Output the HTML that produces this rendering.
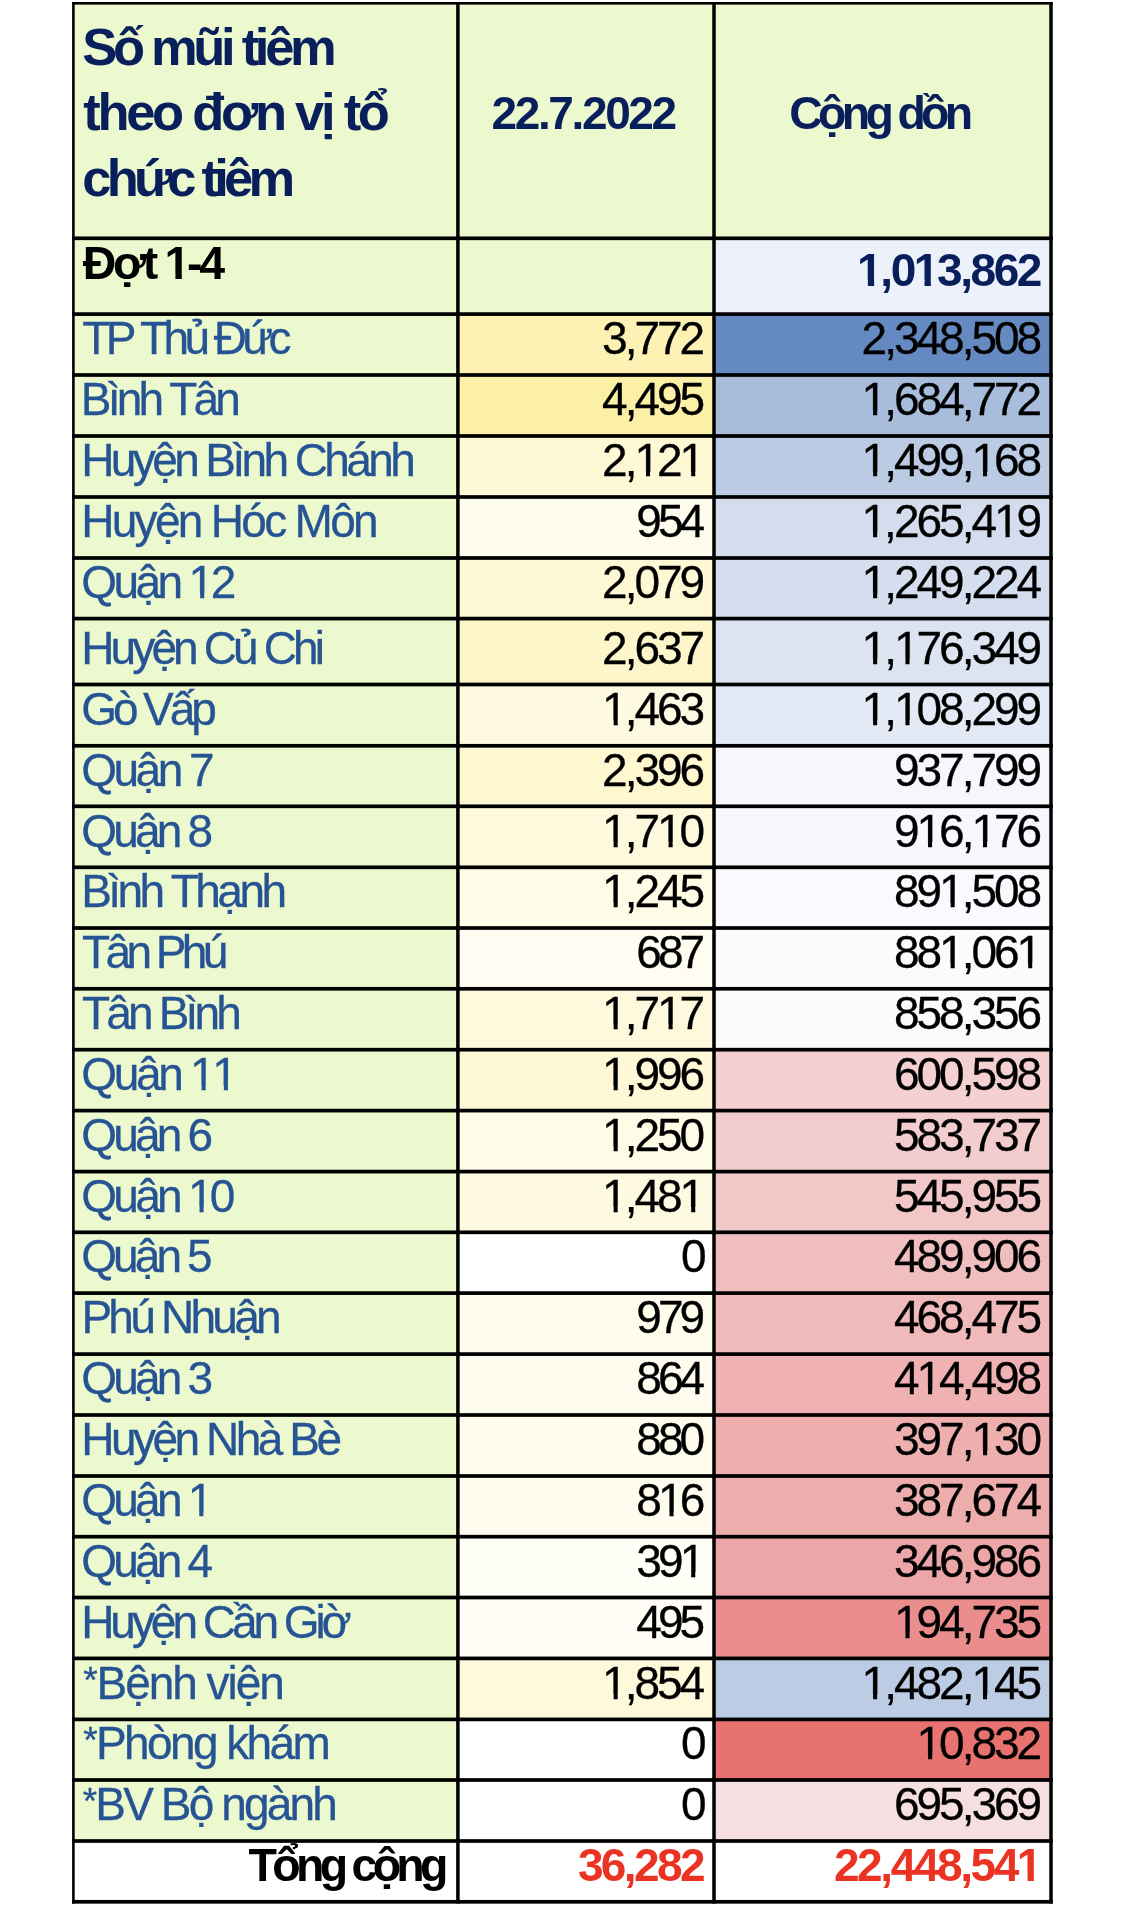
<!DOCTYPE html>
<html lang="vi"><head><meta charset="utf-8"><title>Số mũi tiêm theo đơn vị tổ chức tiêm</title>
<style>
html,body{margin:0;padding:0;background:#fff;}
body{width:1125px;height:1908px;position:relative;overflow:hidden;font-family:"Liberation Sans",sans-serif;}
svg{position:absolute;left:0;top:0;}
.t{position:absolute;white-space:nowrap;line-height:1;margin:0;font-kerning:none;}
.n{font-size:46px;color:#265393;-webkit-text-stroke:0.3px #265393;}
.v{font-size:46px;letter-spacing:-3px;color:#000;text-align:right;-webkit-text-stroke:0.3px #000;}
.a{right:422.8px;}.b{right:85.8px;}
.h{color:#081f5c;font-weight:bold;}
.bd{font-weight:bold;font-size:46px;}
.o{display:inline-block;clip-path:polygon(-.1em 0,1em 0,1em .75em,.3398em .75em,.3398em 1.1em,.2515em 1.1em,.2515em .75em,-.1em .75em);}
.bd .o{clip-path:polygon(-.1em 0,1em 0,1em .72em,.3706em .72em,.3706em 1.1em,.2334em 1.1em,.2334em .72em,-.1em .72em);}
.s{font-size:37px;position:relative;top:-6.2px;left:-1px;}
</style></head><body>
<svg width="1125" height="1908" viewBox="0 0 1125 1908">
<rect x="73.4" y="3.3" width="977.6" height="235" fill="#ecf9ce"/>
<rect x="73.4" y="238.3" width="640.6" height="75.8" fill="#ecf9ce"/>
<rect x="714" y="238.3" width="337" height="75.8" fill="#edf1f9"/>
<rect x="73.4" y="314.1" width="384.5" height="60.9" fill="#ecf9ce"/>
<rect x="457.9" y="314.1" width="256.1" height="60.9" fill="#fdf2b4"/>
<rect x="714" y="314.1" width="337" height="60.9" fill="#6589c1"/>
<rect x="73.4" y="375" width="384.5" height="61" fill="#ecf9ce"/>
<rect x="457.9" y="375" width="256.1" height="61" fill="#fcf0a6"/>
<rect x="714" y="375" width="337" height="61" fill="#a8bcdc"/>
<rect x="73.4" y="436" width="384.5" height="61" fill="#ecf9ce"/>
<rect x="457.9" y="436" width="256.1" height="61" fill="#fef8d4"/>
<rect x="714" y="436" width="337" height="61" fill="#bbcbe4"/>
<rect x="73.4" y="497" width="384.5" height="61" fill="#ecf9ce"/>
<rect x="457.9" y="497" width="256.1" height="61" fill="#fefcec"/>
<rect x="714" y="497" width="337" height="61" fill="#d3ddee"/>
<rect x="73.4" y="558" width="384.5" height="60.6" fill="#ecf9ce"/>
<rect x="457.9" y="558" width="256.1" height="60.6" fill="#fef8d5"/>
<rect x="714" y="558" width="337" height="60.6" fill="#d5deef"/>
<rect x="73.4" y="618.6" width="384.5" height="65.9" fill="#ecf9ce"/>
<rect x="457.9" y="618.6" width="256.1" height="65.9" fill="#fdf6ca"/>
<rect x="714" y="618.6" width="337" height="65.9" fill="#dce4f2"/>
<rect x="73.4" y="684.5" width="384.5" height="61.3" fill="#ecf9ce"/>
<rect x="457.9" y="684.5" width="256.1" height="61.3" fill="#fefae1"/>
<rect x="714" y="684.5" width="337" height="61.3" fill="#e3e9f5"/>
<rect x="73.4" y="745.8" width="384.5" height="60.5" fill="#ecf9ce"/>
<rect x="457.9" y="745.8" width="256.1" height="60.5" fill="#fef7cf"/>
<rect x="714" y="745.8" width="337" height="60.5" fill="#f5f7fc"/>
<rect x="73.4" y="806.3" width="384.5" height="61" fill="#ecf9ce"/>
<rect x="457.9" y="806.3" width="256.1" height="61" fill="#fef9dd"/>
<rect x="714" y="806.3" width="337" height="61" fill="#f7f8fd"/>
<rect x="73.4" y="867.3" width="384.5" height="60.7" fill="#ecf9ce"/>
<rect x="457.9" y="867.3" width="256.1" height="60.7" fill="#fefbe6"/>
<rect x="714" y="867.3" width="337" height="60.7" fill="#fafafe"/>
<rect x="73.4" y="928" width="384.5" height="60.8" fill="#ecf9ce"/>
<rect x="457.9" y="928" width="256.1" height="60.8" fill="#fffdf1"/>
<rect x="714" y="928" width="337" height="60.8" fill="#fbfbfe"/>
<rect x="73.4" y="988.8" width="384.5" height="60.9" fill="#ecf9ce"/>
<rect x="457.9" y="988.8" width="256.1" height="60.9" fill="#fef9dc"/>
<rect x="714" y="988.8" width="337" height="60.9" fill="#fcfafd"/>
<rect x="73.4" y="1049.7" width="384.5" height="60.9" fill="#ecf9ce"/>
<rect x="457.9" y="1049.7" width="256.1" height="60.9" fill="#fef8d7"/>
<rect x="714" y="1049.7" width="337" height="60.9" fill="#f4d0d1"/>
<rect x="73.4" y="1110.6" width="384.5" height="61" fill="#ecf9ce"/>
<rect x="457.9" y="1110.6" width="256.1" height="61" fill="#fefbe6"/>
<rect x="714" y="1110.6" width="337" height="61" fill="#f3cdce"/>
<rect x="73.4" y="1171.6" width="384.5" height="60.7" fill="#ecf9ce"/>
<rect x="457.9" y="1171.6" width="256.1" height="60.7" fill="#fefae1"/>
<rect x="714" y="1171.6" width="337" height="60.7" fill="#f2c7c8"/>
<rect x="73.4" y="1232.3" width="384.5" height="60.8" fill="#ecf9ce"/>
<rect x="457.9" y="1232.3" width="256.1" height="60.8" fill="#ffffff"/>
<rect x="714" y="1232.3" width="337" height="60.8" fill="#f1bebf"/>
<rect x="73.4" y="1293.1" width="384.5" height="61" fill="#ecf9ce"/>
<rect x="457.9" y="1293.1" width="256.1" height="61" fill="#fefceb"/>
<rect x="714" y="1293.1" width="337" height="61" fill="#f0babb"/>
<rect x="73.4" y="1354.1" width="384.5" height="60.9" fill="#ecf9ce"/>
<rect x="457.9" y="1354.1" width="256.1" height="60.9" fill="#fefcee"/>
<rect x="714" y="1354.1" width="337" height="60.9" fill="#efb1b2"/>
<rect x="73.4" y="1415" width="384.5" height="61" fill="#ecf9ce"/>
<rect x="457.9" y="1415" width="256.1" height="61" fill="#fefced"/>
<rect x="714" y="1415" width="337" height="61" fill="#eeafaf"/>
<rect x="73.4" y="1476" width="384.5" height="60.7" fill="#ecf9ce"/>
<rect x="457.9" y="1476" width="256.1" height="60.7" fill="#fefcee"/>
<rect x="714" y="1476" width="337" height="60.7" fill="#eeadad"/>
<rect x="73.4" y="1536.7" width="384.5" height="60.8" fill="#ecf9ce"/>
<rect x="457.9" y="1536.7" width="256.1" height="60.8" fill="#fffef7"/>
<rect x="714" y="1536.7" width="337" height="60.8" fill="#eda6a7"/>
<rect x="73.4" y="1597.5" width="384.5" height="60.9" fill="#ecf9ce"/>
<rect x="457.9" y="1597.5" width="256.1" height="60.9" fill="#fffdf5"/>
<rect x="714" y="1597.5" width="337" height="60.9" fill="#ea8e8d"/>
<rect x="73.4" y="1658.4" width="384.5" height="61" fill="#ecf9ce"/>
<rect x="457.9" y="1658.4" width="256.1" height="61" fill="#fef9da"/>
<rect x="714" y="1658.4" width="337" height="61" fill="#bdcce5"/>
<rect x="73.4" y="1719.4" width="384.5" height="60.6" fill="#ecf9ce"/>
<rect x="457.9" y="1719.4" width="256.1" height="60.6" fill="#ffffff"/>
<rect x="714" y="1719.4" width="337" height="60.6" fill="#e7726f"/>
<rect x="73.4" y="1780" width="384.5" height="61" fill="#ecf9ce"/>
<rect x="457.9" y="1780" width="256.1" height="61" fill="#ffffff"/>
<rect x="714" y="1780" width="337" height="61" fill="#f6dfe1"/>
<rect x="72.1" y="2" width="980.65" height="2.6" fill="#000"/>
<rect x="72.1" y="236.45" width="980.65" height="3.7" fill="#000"/>
<rect x="72.1" y="312.25" width="980.65" height="3.7" fill="#000"/>
<rect x="72.1" y="373.15" width="980.65" height="3.7" fill="#000"/>
<rect x="72.1" y="434.15" width="980.65" height="3.7" fill="#000"/>
<rect x="72.1" y="495.15" width="980.65" height="3.7" fill="#000"/>
<rect x="72.1" y="556.15" width="980.65" height="3.7" fill="#000"/>
<rect x="72.1" y="616.75" width="980.65" height="3.7" fill="#000"/>
<rect x="72.1" y="682.65" width="980.65" height="3.7" fill="#000"/>
<rect x="72.1" y="743.95" width="980.65" height="3.7" fill="#000"/>
<rect x="72.1" y="804.45" width="980.65" height="3.7" fill="#000"/>
<rect x="72.1" y="865.45" width="980.65" height="3.7" fill="#000"/>
<rect x="72.1" y="926.15" width="980.65" height="3.7" fill="#000"/>
<rect x="72.1" y="986.95" width="980.65" height="3.7" fill="#000"/>
<rect x="72.1" y="1047.85" width="980.65" height="3.7" fill="#000"/>
<rect x="72.1" y="1108.75" width="980.65" height="3.7" fill="#000"/>
<rect x="72.1" y="1169.75" width="980.65" height="3.7" fill="#000"/>
<rect x="72.1" y="1230.45" width="980.65" height="3.7" fill="#000"/>
<rect x="72.1" y="1291.25" width="980.65" height="3.7" fill="#000"/>
<rect x="72.1" y="1352.25" width="980.65" height="3.7" fill="#000"/>
<rect x="72.1" y="1413.15" width="980.65" height="3.7" fill="#000"/>
<rect x="72.1" y="1474.15" width="980.65" height="3.7" fill="#000"/>
<rect x="72.1" y="1534.85" width="980.65" height="3.7" fill="#000"/>
<rect x="72.1" y="1595.65" width="980.65" height="3.7" fill="#000"/>
<rect x="72.1" y="1656.55" width="980.65" height="3.7" fill="#000"/>
<rect x="72.1" y="1717.55" width="980.65" height="3.7" fill="#000"/>
<rect x="72.1" y="1778.15" width="980.65" height="3.7" fill="#000"/>
<rect x="72.1" y="1839.15" width="980.65" height="3.7" fill="#000"/>
<rect x="72.1" y="1899.95" width="980.65" height="3.7" fill="#000"/>
<rect x="72.1" y="2" width="2.6" height="1901.55" fill="#000"/>
<rect x="456.15" y="2" width="3.5" height="1901.55" fill="#000"/>
<rect x="712.25" y="2" width="3.5" height="1901.55" fill="#000"/>
<rect x="1049.25" y="2" width="3.5" height="1901.55" fill="#000"/>
</svg>
<div id="tx" style="position:absolute;left:0;top:0;width:1125px;height:1908px;will-change:transform;">
<div class="t h" style="top:20.66px;font-size:52.5px;left:82.2px;letter-spacing:-4.3px;">Số mũi tiêm</div>
<div class="t h" style="top:85.66px;font-size:52.5px;left:83.2px;letter-spacing:-3.28px;">theo đơn vị tổ</div>
<div class="t h" style="top:152.26px;font-size:52.5px;left:82.2px;letter-spacing:-4.75px;">chức tiêm</div>
<div class="t h" style="top:89.76px;font-size:46px;left:491.6px;letter-spacing:-2.39px;">22.7.2022</div>
<div class="t h" style="top:89.94px;font-size:46.5px;left:789.2px;letter-spacing:-4.7px;">Cộng dồn</div>
<div class="t bd" style="top:240.24px;font-size:46.5px;color:#000;left:82.8px;letter-spacing:-3.32px;">Đợt <span class="o">1</span>-4</div>
<div class="t bd" style="top:247.06px;color:#081f5c;text-align:right;right:85px;letter-spacing:-2.42px;"><span class="o">1</span>,0<span class="o">1</span>3,862</div>
<div class="t n" style="top:315.31px;left:82.2px;letter-spacing:-4.59px;">TP Thủ Đức</div>
<div class="t v a" style="top:315.31px;">3,772</div>
<div class="t v b" style="top:315.31px;">2,348,508</div>
<div class="t n" style="top:376.31px;left:80.8px;letter-spacing:-3.8px;">Bình Tân</div>
<div class="t v a" style="top:376.31px;">4,495</div>
<div class="t v b" style="top:376.31px;"><span class="o">1</span>,684,772</div>
<div class="t n" style="top:437.31px;left:81.2px;letter-spacing:-3.6px;">Huyện Bình Chánh</div>
<div class="t v a" style="top:437.31px;">2,<span class="o">1</span>2<span class="o">1</span></div>
<div class="t v b" style="top:437.31px;"><span class="o">1</span>,499,<span class="o">1</span>68</div>
<div class="t n" style="top:498.31px;left:81.2px;letter-spacing:-2.7px;">Huyện Hóc Môn</div>
<div class="t v a" style="top:498.31px;letter-spacing:-3.9px;right:423.7px;">954</div>
<div class="t v b" style="top:498.31px;"><span class="o">1</span>,265,4<span class="o">1</span>9</div>
<div class="t n" style="top:558.91px;left:81.2px;letter-spacing:-3.58px;">Quận <span class="o">1</span>2</div>
<div class="t v a" style="top:558.91px;">2,079</div>
<div class="t v b" style="top:558.91px;"><span class="o">1</span>,249,224</div>
<div class="t n" style="top:624.81px;left:81.2px;letter-spacing:-3.87px;">Huyện Củ Chi</div>
<div class="t v a" style="top:624.81px;">2,637</div>
<div class="t v b" style="top:624.81px;"><span class="o">1</span>,<span class="o">1</span>76,349</div>
<div class="t n" style="top:686.11px;left:81.2px;letter-spacing:-4.07px;">Gò Vấp</div>
<div class="t v a" style="top:686.11px;"><span class="o">1</span>,463</div>
<div class="t v b" style="top:686.11px;"><span class="o">1</span>,<span class="o">1</span>08,299</div>
<div class="t n" style="top:746.61px;left:81.2px;letter-spacing:-3.5px;">Quận 7</div>
<div class="t v a" style="top:746.61px;">2,396</div>
<div class="t v b" style="top:746.61px;">937,799</div>
<div class="t n" style="top:807.61px;left:81.2px;letter-spacing:-3.8px;">Quận 8</div>
<div class="t v a" style="top:807.61px;"><span class="o">1</span>,7<span class="o">1</span>0</div>
<div class="t v b" style="top:807.61px;">9<span class="o">1</span>6,<span class="o">1</span>76</div>
<div class="t n" style="top:868.31px;left:81.2px;letter-spacing:-3.56px;">Bình Thạnh</div>
<div class="t v a" style="top:868.31px;"><span class="o">1</span>,245</div>
<div class="t v b" style="top:868.31px;">89<span class="o">1</span>,508</div>
<div class="t n" style="top:929.11px;left:82px;letter-spacing:-4.58px;">Tân Phú</div>
<div class="t v a" style="top:929.11px;letter-spacing:-3.9px;right:423.7px;">687</div>
<div class="t v b" style="top:929.11px;">88<span class="o">1</span>,06<span class="o">1</span></div>
<div class="t n" style="top:990.01px;left:82px;letter-spacing:-3.84px;">Tân Bình</div>
<div class="t v a" style="top:990.01px;"><span class="o">1</span>,7<span class="o">1</span>7</div>
<div class="t v b" style="top:990.01px;">858,356</div>
<div class="t n" style="top:1050.91px;left:81.2px;letter-spacing:-3.3px;">Quận <span class="o">1</span><span class="o">1</span></div>
<div class="t v a" style="top:1050.91px;"><span class="o">1</span>,996</div>
<div class="t v b" style="top:1050.91px;">600,598</div>
<div class="t n" style="top:1111.91px;left:81.2px;letter-spacing:-3.8px;">Quận 6</div>
<div class="t v a" style="top:1111.91px;"><span class="o">1</span>,250</div>
<div class="t v b" style="top:1111.91px;">583,737</div>
<div class="t n" style="top:1172.61px;left:81.2px;letter-spacing:-3.71px;">Quận <span class="o">1</span>0</div>
<div class="t v a" style="top:1172.61px;"><span class="o">1</span>,48<span class="o">1</span></div>
<div class="t v b" style="top:1172.61px;">545,955</div>
<div class="t n" style="top:1233.41px;left:81.2px;letter-spacing:-3.9px;">Quận 5</div>
<div class="t v a" style="top:1233.41px;right:421.3px;">0</div>
<div class="t v b" style="top:1233.41px;">489,906</div>
<div class="t n" style="top:1294.41px;left:81.4px;letter-spacing:-3.75px;">Phú Nhuận</div>
<div class="t v a" style="top:1294.41px;letter-spacing:-3.9px;right:423.7px;">979</div>
<div class="t v b" style="top:1294.41px;">468,475</div>
<div class="t n" style="top:1355.31px;left:81.2px;letter-spacing:-3.8px;">Quận 3</div>
<div class="t v a" style="top:1355.31px;letter-spacing:-3.9px;right:423.7px;">864</div>
<div class="t v b" style="top:1355.31px;">4<span class="o">1</span>4,498</div>
<div class="t n" style="top:1416.31px;left:81.2px;letter-spacing:-3.49px;">Huyện Nhà Bè</div>
<div class="t v a" style="top:1416.31px;letter-spacing:-3.9px;right:423.7px;">880</div>
<div class="t v b" style="top:1416.31px;">397,<span class="o">1</span>30</div>
<div class="t n" style="top:1477.01px;left:81.2px;letter-spacing:-3.75px;">Quận <span class="o">1</span></div>
<div class="t v a" style="top:1477.01px;letter-spacing:-3.9px;right:423.7px;">8<span class="o">1</span>6</div>
<div class="t v b" style="top:1477.01px;">387,674</div>
<div class="t n" style="top:1537.81px;left:81.2px;letter-spacing:-3.8px;">Quận 4</div>
<div class="t v a" style="top:1537.81px;letter-spacing:-3.9px;right:423.7px;">39<span class="o">1</span></div>
<div class="t v b" style="top:1537.81px;">346,986</div>
<div class="t n" style="top:1598.71px;left:81.2px;letter-spacing:-4.04px;">Huyện Cần Giờ</div>
<div class="t v a" style="top:1598.71px;letter-spacing:-3.9px;right:423.7px;">495</div>
<div class="t v b" style="top:1598.71px;"><span class="o">1</span>94,735</div>
<div class="t n" style="top:1659.71px;left:84.2px;letter-spacing:-2.04px;"><span class="s">*</span>Bệnh viện</div>
<div class="t v a" style="top:1659.71px;"><span class="o">1</span>,854</div>
<div class="t v b" style="top:1659.71px;"><span class="o">1</span>,482,<span class="o">1</span>45</div>
<div class="t n" style="top:1720.31px;left:84.2px;letter-spacing:-2.6px;"><span class="s">*</span>Phòng khám</div>
<div class="t v a" style="top:1720.31px;right:421.3px;">0</div>
<div class="t v b" style="top:1720.31px;"><span class="o">1</span>0,832</div>
<div class="t n" style="top:1781.31px;left:83.8px;letter-spacing:-2.87px;"><span class="s">*</span>BV Bộ ngành</div>
<div class="t v a" style="top:1781.31px;right:421.3px;">0</div>
<div class="t v b" style="top:1781.31px;">695,369</div>
<div class="t bd" style="top:1841.64px;font-size:46.5px;color:#000;left:248.6px;letter-spacing:-4.72px;">Tổng cộng</div>
<div class="t bd" style="top:1842.06px;color:#ea3323;text-align:right;right:422px;letter-spacing:-2.6px;">36,282</div>
<div class="t bd" style="top:1842.06px;color:#ea3323;text-align:right;right:85px;letter-spacing:-2.42px;">22,448,54<span class="o">1</span></div>
</div>
</body></html>
